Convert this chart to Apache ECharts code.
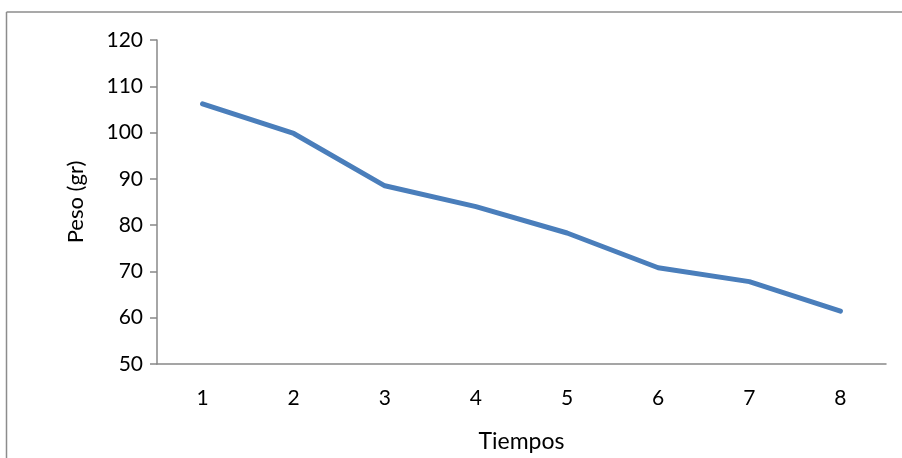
<!DOCTYPE html>
<html>
<head>
<meta charset="utf-8">
<script src="https://cdn.jsdelivr.net/npm/echarts@6/dist/echarts.min.js"></script>
<style>
html,body{margin:0;padding:0;background:#fff;}
#chart{width:902px;height:458px;}
</style>
</head>
<body>
<div id="chart"></div>
<script>
const categories = ['1','2','3','4','5','6','7','8'];
const pesoValues = [106.2, 99.8, 88.5, 84.0, 78.3, 70.8, 67.8, 61.4];
const yTicks = { min: 50, max: 120, interval: 10 };
const xAxisName = 'Tiempos';
const yAxisName = 'Peso (gr)';

const chart = echarts.init(document.getElementById('chart'), null, { renderer: 'canvas' });
const font = 'Lato';
chart.setOption({
  animation: false,
  backgroundColor: '#fff',
  graphic: [
    { type: 'line', shape: { x1: 6.5, y1: 12, x2: 902, y2: 12 }, style: { stroke: '#8c8c8c', lineWidth: 1.5 } },
    { type: 'line', shape: { x1: 6.5, y1: 12, x2: 6.5, y2: 458 }, style: { stroke: '#8c8c8c', lineWidth: 1.5 } }
  ],
  grid: { left: 157, top: 40, right: 16, bottom: 90, containLabel: false },
  xAxis: {
    type: 'category',
    data: categories,
    boundaryGap: true,
    name: xAxisName,
    nameLocation: 'middle',
    nameGap: 66,
    nameTextStyle: { fontFamily: font, fontSize: 23, color: '#000' },
    axisLine: { lineStyle: { color: '#888', width: 1.5 } },
    axisTick: { show: false },
    axisLabel: { fontFamily: font, fontSize: 21, color: '#000', margin: 24 },
    splitLine: { show: false }
  },
  yAxis: {
    type: 'value',
    min: yTicks.min, max: yTicks.max, interval: yTicks.interval,
    name: yAxisName,
    nameLocation: 'middle',
    nameGap: 70,
    nameRotate: 90,
    nameTextStyle: { fontFamily: font, fontSize: 22, color: '#000' },
    axisLine: { show: true, lineStyle: { color: '#888', width: 1.5 } },
    axisTick: { show: true, length: 7, lineStyle: { color: '#888', width: 1.5 } },
    axisLabel: { fontFamily: font, fontSize: 21, color: '#000', margin: 14 },
    splitLine: { show: false }
  },
  series: [{
    type: 'line',
    data: pesoValues,
    symbol: 'none',
    lineStyle: { color: '#4A7EBB', width: 5, cap: 'round', join: 'round' }
  }]
});
</script>
</body>
</html>
